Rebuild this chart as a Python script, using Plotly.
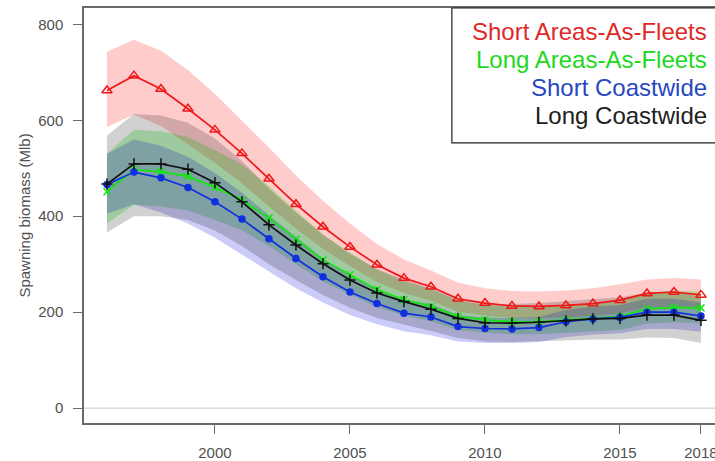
import plotly.graph_objects as go

years = list(range(1996, 2019))

short_aaf = [662, 693, 665, 624, 580, 531, 478, 425, 378, 336, 299, 271, 253, 228, 219, 213, 212, 214, 218, 225, 239, 242, 236]
short_aaf_hi = [743, 768, 745, 705, 655, 600, 543, 485, 432, 385, 342, 310, 287, 262, 250, 244, 243, 245, 250, 258, 268, 271, 268]
short_aaf_lo = [586, 612, 588, 550, 511, 468, 420, 374, 332, 296, 263, 240, 224, 201, 193, 188, 188, 189, 192, 198, 210, 212, 206]

long_aaf = [451, 497, 493, 483, 460, 434, 396, 352, 309, 278, 247, 226, 212, 191, 184, 180, 180, 184, 187, 191, 207, 210, 209]
long_aaf_hi = [530, 580, 577, 565, 538, 508, 463, 412, 362, 325, 289, 264, 248, 224, 215, 211, 211, 215, 219, 223, 240, 245, 243]
long_aaf_lo = [385, 424, 420, 412, 392, 370, 338, 300, 264, 237, 211, 193, 181, 163, 157, 154, 154, 157, 160, 163, 176, 179, 177]

short_cw = [466, 492, 480, 460, 430, 394, 353, 312, 274, 242, 218, 198, 190, 170, 166, 165, 168, 180, 186, 189, 200, 200, 192]
short_cw_hi = [530, 560, 547, 524, 490, 449, 402, 356, 312, 276, 249, 226, 217, 194, 189, 188, 190, 205, 212, 215, 228, 228, 220]
short_cw_lo = [405, 425, 408, 385, 355, 320, 285, 250, 220, 194, 175, 160, 152, 139, 136, 136, 138, 148, 153, 156, 165, 165, 159]

long_cw = [467, 509, 509, 498, 470, 430, 382, 340, 301, 267, 240, 222, 206, 187, 178, 177, 179, 182, 186, 187, 194, 194, 183]
long_cw_hi = [568, 613, 610, 595, 562, 515, 458, 408, 362, 322, 290, 268, 250, 228, 218, 217, 219, 223, 228, 231, 240, 242, 232]
long_cw_lo = [366, 400, 400, 392, 370, 338, 300, 267, 236, 209, 188, 174, 161, 146, 139, 138, 139, 141, 143, 143, 147, 146, 136]

names = ["Short Areas-As-Fleets", "Long Areas-As-Fleets", "Short Coastwide", "Long Coastwide"]
x_ticks = [2000, 2005, 2010, 2015, 2018]
y_ticks = [0, 200, 400, 600, 800]

series = [
    (short_aaf, short_aaf_hi, short_aaf_lo, "#f01818", "rgba(255,0,0,0.2)", "triangle-up-open", 9, "#e02828"),
    (long_aaf, long_aaf_hi, long_aaf_lo, "#10e810", "rgba(0,220,0,0.24)", "x-thin-open", 7, "#20d820"),
    (short_cw, short_cw_hi, short_cw_lo, "#1030e0", "rgba(0,0,220,0.2)", "circle", 6, "#2848c0"),
    (long_cw, long_cw_hi, long_cw_lo, "#101010", "rgba(0,0,0,0.18)", "cross-thin-open", 8, "#202020"),
]

fig = go.Figure()

for (mid, hi, lo, lc, fc, sym, msz, tc), nm in zip(series, names):
    fig.add_trace(go.Scatter(
        x=years + years[::-1], y=hi + lo[::-1], fill="toself", fillcolor=fc,
        line=dict(width=0), mode="lines", hoverinfo="skip", showlegend=False))

for (mid, hi, lo, lc, fc, sym, msz, tc), nm in zip(series, names):
    fig.add_trace(go.Scatter(
        x=years, y=mid, mode="lines+markers", name=nm,
        line=dict(color=lc, width=1.7),
        marker=dict(symbol=sym, size=msz, color=lc, line=dict(color=lc, width=1.5)),
        showlegend=False))

# zero reference line
fig.add_shape(type="line", xref="paper", x0=0, x1=1, yref="y", y0=0, y1=0,
              line=dict(color="#c8c8c8", width=1))

# legend box (R style, right-aligned text)
fig.add_shape(type="rect", xref="paper", yref="paper", x0=0.583, x1=1.02, y0=0.675, y1=1.0,
              line=dict(color="#202020", width=1.2), fillcolor="white", layer="above")
leg_y = [0.943, 0.876, 0.808, 0.742]
for i, nm in enumerate(names):
    fig.add_annotation(xref="paper", yref="paper", x=0.991, y=leg_y[i], text=nm,
                       showarrow=False, xanchor="right", yanchor="middle",
                       font=dict(family="Liberation Sans, Arial", size=24, color=series[i][7]))

axis_col = "#6a6a6a"
fig.update_layout(
    width=715, height=461,
    margin=dict(l=84, r=0, t=8, b=38),
    paper_bgcolor="white", plot_bgcolor="white",
    font=dict(family="Liberation Sans, Arial", color="#505050"),
    xaxis=dict(range=[1995.15, 2018.52], tickvals=x_ticks, ticktext=[str(v) for v in x_ticks],
               ticks="outside", ticklen=9, tickcolor=axis_col, tickwidth=1.2,
               showline=True, linecolor=axis_col, linewidth=1.5, mirror=True,
               showgrid=False, zeroline=False, tickfont=dict(size=15, color="#505050"),
               ticklabelstandoff=6, automargin=False, ticklabeloverflow="allow"),
    yaxis=dict(range=[-31, 834], tickvals=y_ticks, ticks="outside", ticklen=9,
               tickcolor=axis_col, tickwidth=1.2, showline=True, linecolor=axis_col,
               linewidth=1.5, mirror=False, showgrid=False, zeroline=False,
               tickfont=dict(size=15, color="#505050"), ticklabelstandoff=7, automargin=False,
               title=dict(text="Spawning biomass (Mlb)", font=dict(size=15, color="#505050"), standoff=4)),
)

fig.write_html("out.html", config={"displayModeBar": False},
               post_script="document.body.style.margin='0';document.body.style.overflow='hidden';")
